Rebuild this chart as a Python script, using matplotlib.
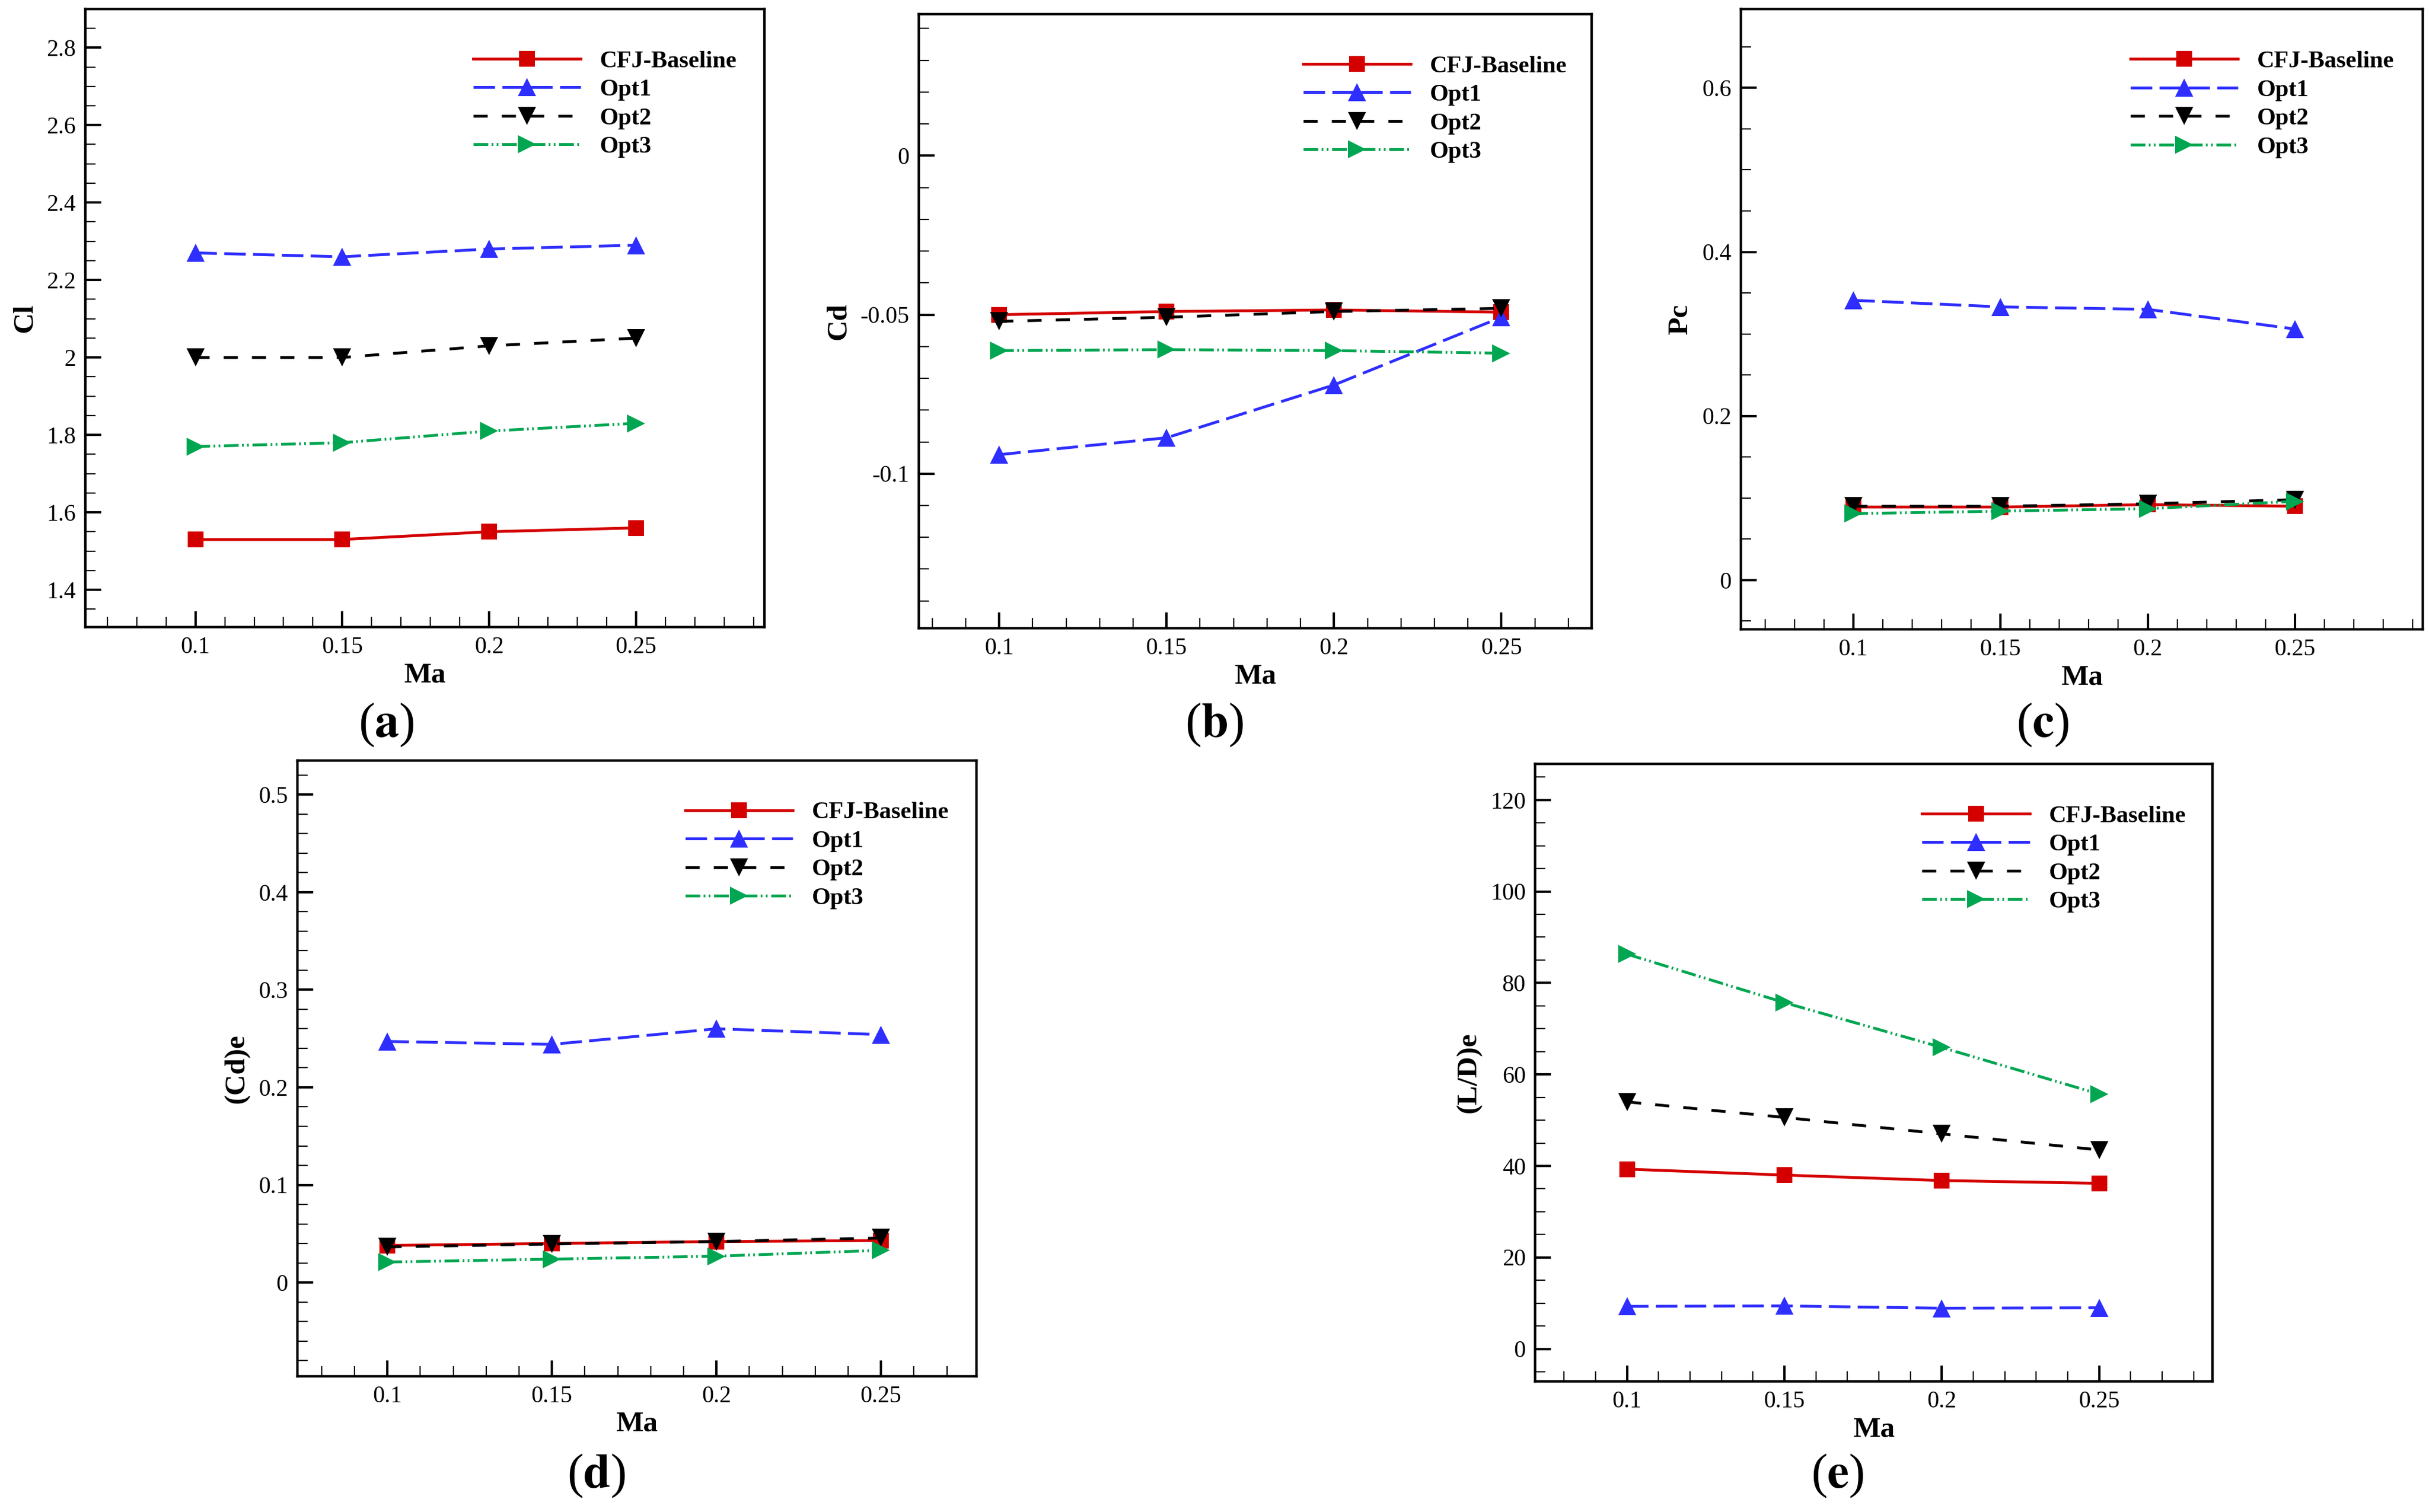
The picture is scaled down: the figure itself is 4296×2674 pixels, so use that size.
import numpy as np
import matplotlib
matplotlib.use("Agg")
import matplotlib.pyplot as plt
from matplotlib.ticker import MultipleLocator, FuncFormatter

plt.rcParams["font.family"] = ["Liberation Serif", "DejaVu Serif"]
plt.rcParams["mathtext.fontset"] = "stix"

ma = [0.1, 0.15, 0.2, 0.25]
labels = ["CFJ-Baseline", "Opt1", "Opt2", "Opt3"]

cl_base = [1.53, 1.53, 1.55, 1.56]
cl_opt1 = [2.27, 2.26, 2.28, 2.29]
cl_opt2 = [2.00, 2.00, 2.03, 2.05]
cl_opt3 = [1.77, 1.78, 1.81, 1.83]

cd_base = [-0.0500, -0.0490, -0.0485, -0.0492]
cd_opt1 = [-0.0940, -0.0887, -0.0721, -0.0508]
cd_opt2 = [-0.0521, -0.0508, -0.0490, -0.0480]
cd_opt3 = [-0.0613, -0.0610, -0.0613, -0.0621]

pc_base = [0.089, 0.089, 0.092, 0.090]
pc_opt1 = [0.341, 0.333, 0.330, 0.306]
pc_opt2 = [0.090, 0.090, 0.093, 0.098]
pc_opt3 = [0.081, 0.084, 0.087, 0.096]

cde_base = [0.038, 0.040, 0.042, 0.043]
cde_opt1 = [0.247, 0.244, 0.260, 0.254]
cde_opt2 = [0.0365, 0.0395, 0.042, 0.0456]
cde_opt3 = [0.021, 0.024, 0.027, 0.033]

lde_base = [39.3, 38.0, 36.8, 36.2]
lde_opt1 = [9.3, 9.4, 8.9, 9.0]
lde_opt2 = [54.0, 50.6, 47.0, 43.5]
lde_opt3 = [86.3, 75.7, 65.9, 55.7]

styles = [
    dict(color="#d40000", marker="s", ms=20, ls="-"),
    dict(color="#2e2eff", marker="^", ms=23, ls=(0, (7.6, 2.6))),
    dict(color="black", marker="v", ms=23, ls=(0, (5, 5))),
    dict(color="#00a651", marker=">", ms=23, ls=(0, (5.2, 1.2, 0.6, 1.2, 0.6, 1.3))),
]

panels = [
    # rect, series, ylabel, xlim, ylim, ymajor, yminor, tag, tag position (px)
    ([0.0351, 0.5853, 0.2796, 0.4088], [cl_base, cl_opt1, cl_opt2, cl_opt3], "Cl",
     (0.0625, 0.2937), (1.304, 2.9), 0.2, 0.05, "a", (683, 1282)),
    ([0.3783, 0.5845, 0.2770, 0.4061], [cd_base, cd_opt1, cd_opt2, cd_opt3], "Cd",
     (0.076, 0.277), (-0.1486, 0.0445), 0.05, 0.01, "b", (2148, 1282)),
    ([0.7167, 0.5838, 0.2807, 0.4102], [pc_base, pc_opt1, pc_opt2, pc_opt3], "Pc",
     (0.0618, 0.2934), (-0.06, 0.696), 0.2, 0.05, "c", (3613, 1282)),
    ([0.1224, 0.0898, 0.2796, 0.4073], [cde_base, cde_opt1, cde_opt2, cde_opt3], "(Cd)e",
     (0.0726, 0.279), (-0.096, 0.535), 0.1, 0.02, "d", (1055, 2610)),
    ([0.6320, 0.0864, 0.2789, 0.4084], [lde_base, lde_opt1, lde_opt2, lde_opt3], "(L/D)e",
     (0.0708, 0.286), (-7.1, 127.9), 20, 5, "e", (3250, 2610)),
]

W, H = 4296, 2674
fig = plt.figure(figsize=(W / 100, H / 100), dpi=100)
fmt = FuncFormatter(lambda v, p: "%g" % round(v, 6))

for rect, series, ylabel, xlim, ylim, ymaj, ymin, tag, tagpos in panels:
    ax = fig.add_axes(rect)
    for vals, lab, st in zip(series, labels, styles):
        ax.plot(ma, vals, color=st["color"], ls=st["ls"], lw=3.6,
                marker=st["marker"], ms=st["ms"], mec=st["color"], mew=0,
                label=lab)
    ax.set_xlim(*xlim)
    ax.set_ylim(*ylim)
    ax.xaxis.set_major_locator(MultipleLocator(0.05))
    ax.xaxis.set_minor_locator(MultipleLocator(0.01))
    ax.yaxis.set_major_locator(MultipleLocator(ymaj))
    ax.yaxis.set_minor_locator(MultipleLocator(ymin))
    ax.xaxis.set_major_formatter(fmt)
    ax.yaxis.set_major_formatter(fmt)
    ax.tick_params(which="both", direction="in", top=False, right=False,
                   labelsize=30, pad=12)
    ax.tick_params(which="major", length=20, width=3)
    ax.tick_params(which="minor", length=13, width=1.6)
    for sp in ax.spines.values():
        sp.set_linewidth(3.2)
    ax.set_xlabel("Ma", fontsize=37, fontweight="bold", labelpad=5)
    ax.set_ylabel(ylabel, fontsize=37, fontweight="bold", labelpad=11)
    ax.legend(loc="upper left", bbox_to_anchor=(0.571, 0.933), frameon=False,
              prop={"weight": "bold", "size": 30.5},
              handlelength=4.5, handletextpad=0.8, labelspacing=0.28,
              borderpad=0, borderaxespad=0, numpoints=1)
    fig.text(tagpos[0] / W, 1 - tagpos[1] / H, r"($\mathbf{%s}$)" % tag,
             fontsize=62, ha="center", va="center")

fig.savefig("out.png", dpi=100)
